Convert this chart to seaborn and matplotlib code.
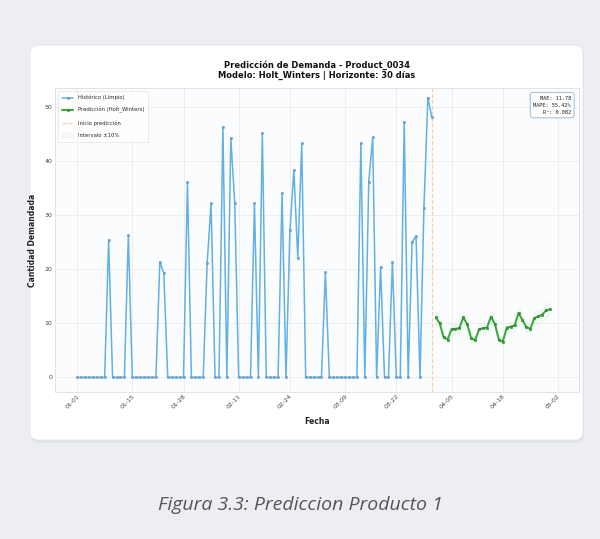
import numpy as np
import pandas as pd
import matplotlib
matplotlib.use("Agg")
import matplotlib.pyplot as plt
import matplotlib.dates as mdates
from matplotlib.patches import FancyBboxPatch
import seaborn as sns

# ---------------- data ----------------
start_date = "2024-01-01"
hist_values = [
    0, 0, 0, 0, 0, 0, 0, 0, 25.4, 0,
    0, 0, 0, 26.3, 0, 0, 0, 0, 0, 0,
    0, 21.3, 19.3, 0, 0, 0, 0, 0, 36.1, 0,
    0, 0, 0, 21.1, 32.2, 0, 0, 46.3, 0, 44.3,
    32.2, 0, 0, 0, 0, 32.2, 0, 45.2, 0, 0,
    0, 0, 34.1, 0, 27.2, 38.3, 22.0, 43.3, 0, 0,
    0, 0, 0, 19.4, 0, 0, 0, 0, 0, 0,
    0, 0, 43.3, 0, 36.1, 44.4, 0, 20.4, 0, 0,
    21.3, 0, 0, 47.2, 0, 25.0, 26.1, 0, 31.3, 51.7,
    48.1,
]
forecast_values = [
    11.1, 10.0, 7.4, 7.0, 8.9, 9.0, 9.1,
    11.1, 9.8, 7.2, 6.9, 8.9, 9.1, 9.2,
    11.2, 9.9, 7.0, 6.6, 9.2, 9.4, 9.6,
    11.9, 10.6, 9.3, 9.0, 10.9, 11.3, 11.6,
    12.4, 12.6,
]
interval_pct = 0.10
tick_dates = ["2024-01-01", "2024-01-15", "2024-01-28", "2024-02-11", "2024-02-24",
              "2024-03-09", "2024-03-22", "2024-04-05", "2024-04-18", "2024-05-02"]
y_ticks = [0, 10, 20, 30, 40, 50]
metrics_text = "MAE: 11.78\nMAPE: 55.42%\nR²: 0.082"
title_text = "Predicción de Demanda - Product_0034\nModelo: Holt_Winters | Horizonte: 30 días"
legend_labels = ["Histórico (Limpio)", "Predicción (Holt_Winters)", "Inicio predicción", "Intervalo ±10%"]
caption = "Figura 3.3: Prediccion Producto 1"

hist_dates = pd.date_range(start_date, periods=len(hist_values), freq="D")
fc_dates = pd.date_range(hist_dates[-1] + pd.Timedelta(days=1), periods=len(forecast_values), freq="D")
hist_df = pd.DataFrame({"Fecha": hist_dates, "Demanda": hist_values})
fc_df = pd.DataFrame({"Fecha": fc_dates, "Demanda": forecast_values})

# ---------------- figure ----------------
sns.set_theme(style="whitegrid")
plt.rcParams["font.family"] = ["DejaVu Sans"]

fig = plt.figure(figsize=(6.0, 5.39), dpi=100)
fig.patch.set_facecolor("#eceef1")

# card shadow + card
shadow = FancyBboxPatch((0.052, 0.178), 0.9217, 0.733,
                        boxstyle="round,pad=0,rounding_size=0.015",
                        transform=fig.transFigure, facecolor="#d9dce1",
                        edgecolor="none", alpha=0.6, zorder=-2)
card = FancyBboxPatch((0.05, 0.1837), 0.9217, 0.733,
                      boxstyle="round,pad=0,rounding_size=0.015",
                      transform=fig.transFigure, facecolor="white",
                      edgecolor="#e3e5e8", linewidth=0.6, zorder=-1)
fig.add_artist(shadow)
fig.add_artist(card)

ax = fig.add_axes([0.0917, 0.2727, 0.873, 0.564])
ax.set_zorder(5)
ax.set_facecolor("#fbfcfd")

sns.lineplot(data=hist_df, x="Fecha", y="Demanda", ax=ax, color="#62b0e6",
             linewidth=1.1, marker="o", markersize=1.6, markeredgewidth=0.3,
             markeredgecolor="#4f7fa3", label=legend_labels[0], zorder=3)
sns.lineplot(data=fc_df, x="Fecha", y="Demanda", ax=ax, color="#3aa63a",
             linewidth=1.4, marker="o", markersize=1.8, markeredgewidth=0.3,
             markeredgecolor="#1f6f1f", label=legend_labels[1], zorder=4)
ax.axvline(hist_dates[-1], color="#f0b27a", linestyle="--", linewidth=0.8,
           alpha=0.6, label=legend_labels[2], zorder=2)
fc_arr = np.array(forecast_values)
ax.fill_between(fc_dates, fc_arr * (1 - interval_pct), fc_arr * (1 + interval_pct),
                color="#7dcea0", alpha=0.07, label=legend_labels[3], zorder=1)

ax.set_xlim(hist_dates[0] - pd.Timedelta(days=5.6), hist_dates[0] + pd.Timedelta(days=127.3))
ax.set_ylim(-2.7, 53.5)
ax.set_yticks(y_ticks)
ax.set_xticks(pd.to_datetime(tick_dates))
ax.xaxis.set_major_formatter(mdates.DateFormatter("%m-%d"))
ax.tick_params(axis="x", labelsize=4.5, rotation=45, pad=1, length=0, colors="#444444")
ax.tick_params(axis="y", labelsize=4.5, pad=2, length=0, colors="#444444")
for lbl in ax.get_xticklabels():
    lbl.set_ha("right")
    lbl.set_rotation_mode("anchor")

ax.grid(True, color="#e6e8eb", linewidth=0.5)
for s in ax.spines.values():
    s.set_color("#dcdfe3")
    s.set_linewidth(0.6)

ax.set_xlabel("Fecha", fontsize=5.5, fontweight="bold", labelpad=5, color="#222222")
ax.set_ylabel("Cantidad Demandada", fontsize=5.5, fontweight="bold", labelpad=5, color="#222222")
ax.set_title(title_text, fontsize=6, fontweight="bold", pad=7, color="#111111", linespacing=1.2)

leg = ax.legend(loc="upper left", fontsize=3.8, frameon=True, labelspacing=1.3,
                handlelength=2.2, borderpad=0.8, bbox_to_anchor=(0.0, 1.0))
leg.get_frame().set_edgecolor("#dddddd")
leg.get_frame().set_linewidth(0.5)

ax.text(0.985, 0.975, metrics_text, transform=ax.transAxes, ha="right", va="top",
        fontsize=3.8, family="DejaVu Sans Mono", linespacing=1.5, color="#222222",
        bbox=dict(boxstyle="round,pad=0.6", facecolor="white", edgecolor="#a9c4de", linewidth=0.8))

fig.text(0.5, 1 - 505 / 539, caption, ha="center", va="center", fontsize=14,
         style="italic", family="Open Sans", color="#555555")

fig.savefig("out.png", dpi=100, facecolor=fig.get_facecolor())
